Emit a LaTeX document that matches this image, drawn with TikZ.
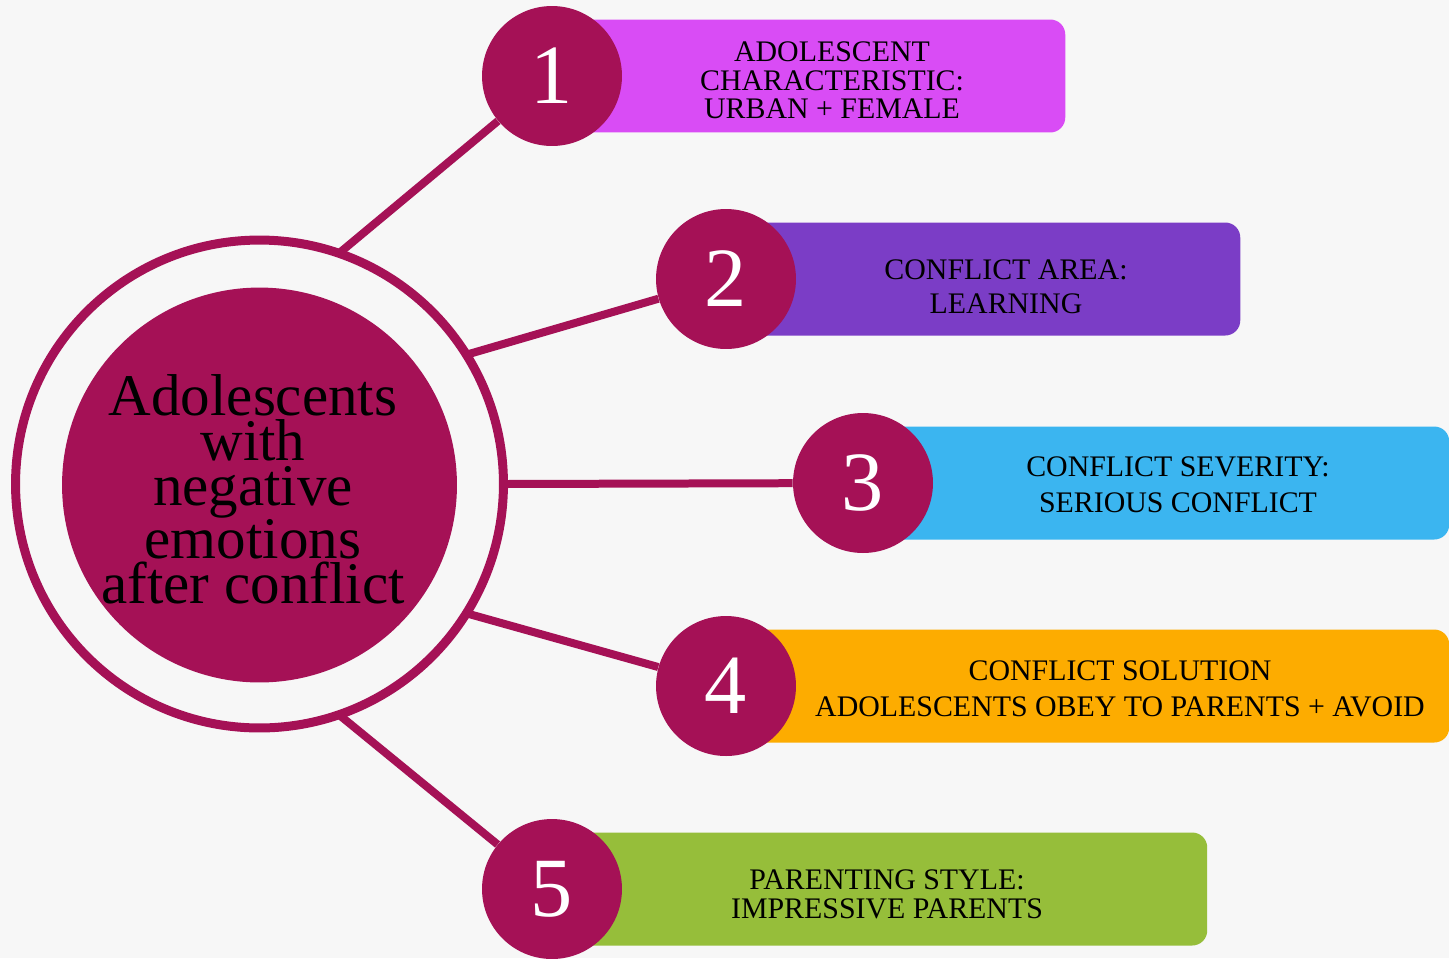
\documentclass[tikz,border=0pt]{standalone}
\usepackage{fontspec}
\setmainfont{Liberation Serif}
\usetikzlibrary{backgrounds}

\definecolor{berry}{HTML}{A51156}
\definecolor{paper}{HTML}{F7F7F7}
\definecolor{boxone}{HTML}{D94CF5}
\definecolor{boxtwo}{HTML}{7B3DC6}
\definecolor{boxthree}{HTML}{3BB5F0}
\definecolor{boxfour}{HTML}{FDAC00}
\definecolor{boxfive}{HTML}{96BE3A}

\tikzset{
  numcirc/.style={circle, fill=berry, text=white, inner sep=0pt, minimum size=2.8cm,
    font=\fontsize{48}{48}\selectfont},
  itembox/.style={rectangle, rounded corners=0.3cm, minimum height=2.26cm, anchor=west, inner sep=0pt},
  itemtext/.style={align=center, inner sep=0pt, font=\fontsize{17}{#1}\selectfont},
  link/.style={berry, line width=0.16cm},
}

\begin{document}
\begin{tikzpicture}[x=0.02cm, y=-0.02cm]
    \useasboundingbox (0,0) rectangle (1449,958);

    % centre
    \node [circle, draw=berry, line width=0.18cm, minimum size=9.76cm, inner sep=0pt, outer sep=0pt] (ring) at (259.5,484) {};
    \node [circle, fill=berry, minimum size=7.9cm, inner sep=0pt] (core) at (259.5,485) {};
    \node [align=center, inner sep=0pt, font=\fontsize{33.6}{25.6}\selectfont] (title) at (253,489.5)
      {Adolescents\\with\\negative\\emotions\\after conflict};

    % numbers
    \node [numcirc] (n1) at (552,76) {1};
    \node [numcirc] (n2) at (726,279) {2};
    \node [numcirc] (n3) at (863,483) {3};
    \node [numcirc] (n4) at (726,686) {4};
    \node [numcirc] (n5) at (552,889) {5};

    % texts
    \node [itemtext=16.2] (t1) at (832,80.5) {ADOLESCENT\\CHARACTERISTIC:\\URBAN + FEMALE};
    \node [itemtext=19.3] (t2) at (1006,287) {CONFLICT AREA:\\LEARNING};
    \node [itemtext=20.4] (t3) at (1178,485) {CONFLICT SEVERITY:\\SERIOUS CONFLICT};
    \node [itemtext=20.4] (t4) at (1120,689) {CONFLICT SOLUTION\\ADOLESCENTS OBEY TO PARENTS + AVOID};
    \node [itemtext=16.5] (t5) at (887,894.5) {PARENTING STYLE:\\IMPRESSIVE PARENTS};

    \begin{pgfonlayer}{background}
      \fill [paper] (0,0) rectangle (1449,958);

      \node [itembox, fill=boxone, minimum width=10.26cm] (b1) at (n1.center) {};
      \node [itembox, fill=boxtwo, minimum width=10.28cm] (b2) at (n2.center) {};
      \node [itembox, fill=boxthree, minimum width=11.72cm] (b3) at (n3.center) {};
      \node [itembox, fill=boxfour, minimum width=14.46cm] (b4) at (n4.center) {};
      \node [itembox, fill=boxfive, minimum width=13.1cm] (b5) at (n5.center) {};

      \draw [link] (ring.71) -- (n1);
      \draw [link] (ring.32) -- (n2);
      \draw [link] (ring.0) -- (n3);
      \draw [link] (ring.-32) -- (n4);
      \draw [link] (ring.-71) -- (n5);
    \end{pgfonlayer}
\end{tikzpicture}
\end{document}
